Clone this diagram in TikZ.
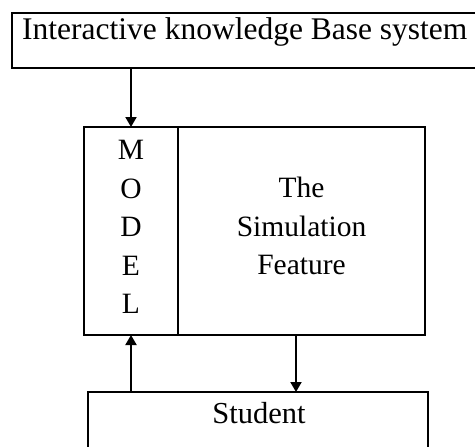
\documentclass[tikz,border=0pt]{standalone}
\usepackage{fontspec}
\setmainfont{Liberation Serif}
\usetikzlibrary{arrows.meta,calc}
\begin{document}
\begin{tikzpicture}[x=1pt,y=-1pt,
  frame/.style={draw, line width=2pt, inner sep=0pt, outer sep=0pt},
  txt/.style={inner sep=0pt, font=\fontsize{29.5}{38.5}\selectfont, align=center},
  arr/.style={line width=2pt, -{Triangle[length=10pt,width=11pt]}}]
  \useasboundingbox (0,0) rectangle (475,447);
  \clip (0,0) rectangle (475,447);
  \fill[white] (0,0) rectangle (475,447);

  % knowledge base box (runs past the right edge)
  \node[frame, anchor=north west, minimum width=480pt, minimum height=55pt] (kb) at (12,13) {};
  \node[txt, anchor=base west, font=\fontsize{31.5}{36}\selectfont] (kbtext) at (22,39) {Interactive knowledge Base system};

  % model column and simulation feature
  \node[frame, anchor=north west, minimum width=94pt, minimum height=208pt] (model) at (84,127) {};
  \node[frame, anchor=north west, minimum width=247pt, minimum height=208pt] (sim) at (178,127) {};
  \node[txt] (modeltext) at ($(model.center)+(0,-4)$) {M\\O\\D\\E\\L};
  \node[txt] (simtext) at ($(sim.center)+(0,-5)$) {The\\Simulation\\Feature};

  % student box (runs past the bottom edge)
  \node[frame, anchor=north west, minimum width=340pt, minimum height=70pt] (student) at (88,392) {};
  \node[txt, anchor=base, font=\fontsize{30.5}{36}\selectfont] (studtext) at (259,423) {Student};

  % connectors
  \coordinate (simout) at ($(sim.south)+(-5.5,0)$);
  \draw[arr] (kb.south -| model.center) -- (model.north);
  \draw[arr] (student.north -| model.center) -- (model.south);
  \draw[arr] (simout) -- (student.north -| simout);
\end{tikzpicture}
\end{document}
